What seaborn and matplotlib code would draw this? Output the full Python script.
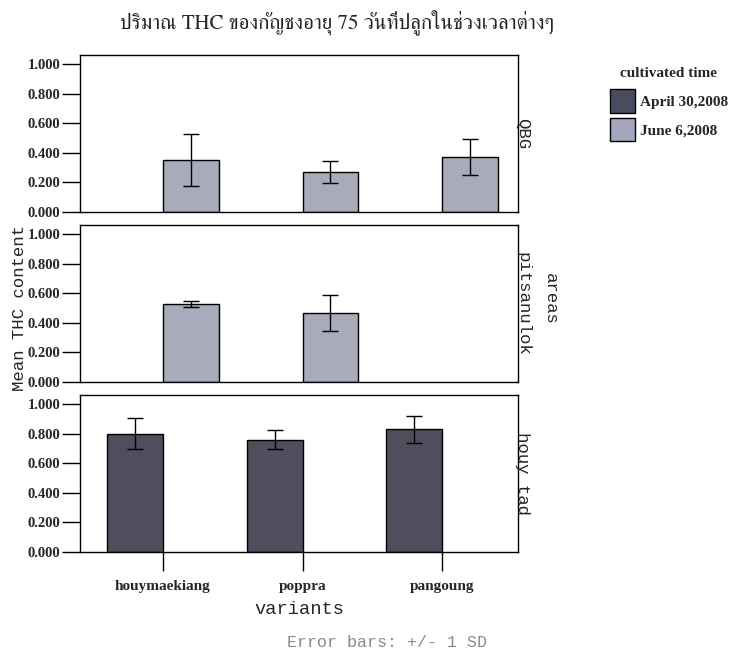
import matplotlib
matplotlib.use("Agg")
import matplotlib.pyplot as plt
from matplotlib.patches import Patch
import pandas as pd
import seaborn as sns

# THC measurements: mean and standard deviation per area / variant / planting date
variants = ["houymaekiang", "poppra", "pangoung"]
dates = ["April 30,2008", "June 6,2008"]
areas = ["QBG", "pitsanulok", "houy tad"]
ytick_values = [0.0, 0.2, 0.4, 0.6, 0.8, 1.0]

qbg_variant = ["houymaekiang", "poppra", "pangoung"]
qbg_mean = [0.35, 0.27, 0.37]
qbg_sd = [0.175, 0.075, 0.12]

pits_variant = ["houymaekiang", "poppra"]
pits_mean = [0.53, 0.465]
pits_sd = [0.02, 0.12]

houy_variant = ["houymaekiang", "poppra", "pangoung"]
houy_mean = [0.80, 0.76, 0.83]
houy_sd = [0.105, 0.063, 0.09]

colors = {"April 30,2008": "#4b4b5f", "June 6,2008": "#a6a7bd"}

frames = [
    pd.DataFrame({"area": "QBG", "variant": qbg_variant, "date": "June 6,2008",
                  "thc": qbg_mean, "sd": qbg_sd}),
    pd.DataFrame({"area": "pitsanulok", "variant": pits_variant, "date": "June 6,2008",
                  "thc": pits_mean, "sd": pits_sd}),
    pd.DataFrame({"area": "houy tad", "variant": houy_variant, "date": "April 30,2008",
                  "thc": houy_mean, "sd": houy_sd}),
]
df = pd.concat(frames, ignore_index=True)

sns.set_theme(style="white")
plt.rcParams["font.family"] = ["Liberation Serif", "DejaVu Serif"]

fig, axes = plt.subplots(3, 1, figsize=(7.32, 6.56), dpi=100, sharex=True)
fig.subplots_adjust(left=0.109, right=0.708, top=0.916, bottom=0.1585, hspace=0.085)

serif_bold = dict(family="Liberation Serif", weight="bold")
mono = dict(family="Liberation Mono")
# dodge offsets for the two hue levels (bar width 0.8 split in two)
offsets = {"April 30,2008": -0.2, "June 6,2008": 0.2}

for ax, area in zip(axes, areas):
    sub = df[df["area"] == area]
    sns.barplot(data=sub, x="variant", y="thc", hue="date", order=variants,
                hue_order=dates, palette=colors, width=0.8, dodge=True,
                errorbar=None, edgecolor="black", linewidth=1.0, ax=ax,
                legend=False)
    for _, row in sub.iterrows():
        xpos = variants.index(row["variant"]) + offsets[row["date"]]
        ax.errorbar(xpos, row["thc"], yerr=row["sd"], fmt="none",
                    ecolor="black", elinewidth=1.0, capsize=6, capthick=1.0)
    ax.set_ylim(0, 1.06)
    ax.set_xlim(-0.593, 2.543)
    ax.set_yticks(ytick_values)
    ax.set_yticklabels([f"{v:.3f}" for v in ytick_values], fontsize=10.5, **serif_bold)
    ax.tick_params(axis="y", left=True, direction="out", length=13, width=1,
                   color="black", pad=1)
    ax.set_xlabel("")
    ax.set_ylabel("")
    for sp in ax.spines.values():
        sp.set_visible(True)
        sp.set_color("black")
        sp.set_linewidth(1.0)
    ax.text(0.993, 0.5, area, transform=ax.transAxes, rotation=-90,
            ha="left", va="center", fontsize=12.5, **mono)

for ax in axes[:2]:
    ax.tick_params(axis="x", bottom=False, labelbottom=False)

axb = axes[2]
axb.tick_params(axis="x", bottom=True, direction="out", length=14, width=1,
                color="black", pad=6)
axb.set_xticks(range(len(variants)))
axb.set_xticklabels(variants, fontsize=11, **serif_bold)
axb.set_xlabel("variants", fontsize=13.5, labelpad=6, **mono)

fig.text(20 / 732, 0.53, "Mean THC content", rotation=90, ha="center", va="center",
         fontsize=12.5, **mono)
fig.text(0.752, 0.545, "areas", rotation=-90, ha="center", va="center",
         fontsize=12.5, **mono)
fig.text(0.529, 0.02, "Error bars: +/- 1 SD", ha="center", va="center",
         fontsize=12, color="#8a8a8a", **mono)

fig.text(0.46, 0.967, "ปริมาณ THC ของกัญชงอายุ 75 วันที่ปลูกในช่วงเวลาต่างๆ",
         ha="center", va="center", fontsize=15, family=["FreeSerif", "Liberation Serif"])

handles = [Patch(facecolor=colors[d], edgecolor="black", linewidth=1.0, label=d)
           for d in dates]
leg = fig.legend(handles=handles, title="cultivated time", loc="upper left",
                 bbox_to_anchor=(0.823, 0.91), frameon=False,
                 prop=dict(family="Liberation Serif", weight="bold", size=11),
                 handlelength=1.64, handleheight=2.0, labelspacing=0.3,
                 handletextpad=0.3, borderpad=0.0)
leg.get_title().set_fontweight("bold")
leg.get_title().set_fontfamily("Liberation Serif")
leg.get_title().set_fontsize(11)
leg._legend_box.sep = 7

fig.savefig("out.png", dpi=100)
